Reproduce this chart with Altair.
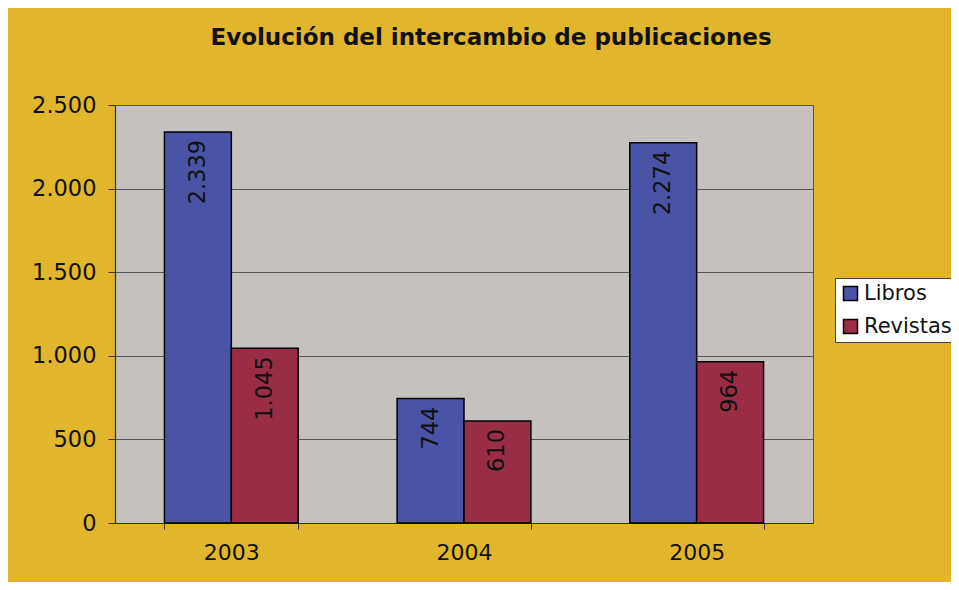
import altair as alt
import pandas as pd

years = ["2003", "2004", "2005"]
libros = [2339, 744, 2274]
revistas = [1045, 610, 964]
series = ["Libros", "Revistas"]
title_text = "Evolución del intercambio de publicaciones"

rows = []
for i, y in enumerate(years):
    rows.append({"anio": y, "serie": series[0], "valor": libros[i]})
    rows.append({"anio": y, "serie": series[1], "valor": revistas[i]})
df = pd.DataFrame(rows)

FONT = "DejaVu Sans"

base = alt.Chart(df).encode(
    x=alt.X(
        "anio:N",
        sort=years,
        title=None,
        scale=alt.Scale(paddingInner=0.425, paddingOuter=0.2125),
        axis=alt.Axis(
            labelAngle=0,
            labelFontSize=22,
            labelFont=FONT,
            labelColor="#111",
            labelPadding=13,
            tickBand="extent",
            tickSize=6,
            tickColor="#333",
            domainColor="#333",
            domainWidth=1.2,
        ),
    ),
    xOffset=alt.XOffset("serie:N", sort=series, scale=alt.Scale(paddingInner=0, paddingOuter=0)),
    y=alt.Y(
        "valor:Q",
        title=None,
        scale=alt.Scale(domain=[0, 2500], nice=False),
        axis=alt.Axis(
            values=[0, 500, 1000, 1500, 2000, 2500],
            labelExpr="replace(format(datum.value, ','), ',', '.')",
            labelFontSize=22.5,
            labelFont=FONT,
            labelColor="#111",
            labelPadding=12,
            tickSize=7,
            tickColor="#333",
            domainColor="#333",
            domainWidth=1.2,
            grid=True,
            gridColor="#555",
            gridWidth=1,
        ),
    ),
)

bars = base.mark_bar(stroke="black", strokeWidth=1.5).encode(
    color=alt.Color(
        "serie:N",
        sort=series,
        scale=alt.Scale(domain=series, range=["#4B53A6", "#9A2D46"]),
        legend=alt.Legend(
            title=None,
            orient="none",
            legendX=720,
            legendY=173,
            fillColor="white",
            strokeColor="#444",
            padding=5,
            symbolType="square",
            symbolSize=196,
            symbolStrokeColor="black",
            symbolStrokeWidth=1.5,
            symbolOpacity=1,
            labelFontSize=21,
            labelFont=FONT,
            labelColor="#111",
            rowPadding=11,
            labelOffset=3,
        ),
    )
)

labels = base.mark_text(
    angle=270, align="right", baseline="middle", dx=-8, fontSize=22.5, font=FONT, color="#111"
).transform_calculate(
    etiqueta="replace(format(datum.valor, ','), ',', '.')"
).encode(text="etiqueta:N")

chart = (
    alt.layer(bars, labels)
    .properties(
        width=698,
        height=418,
        autosize=alt.AutoSizeParams(type="none"),
        padding={"left": 107, "top": 97, "right": 138, "bottom": 59},
        background="#E1B52C",
        title=alt.Title(
            title_text,
            fontSize=23,
            font=FONT,
            fontWeight="bold",
            color="#111",
            anchor="middle",
            dx=27,
            offset=44,
        ),
    )
    .configure_view(fill="#C4C1BE", stroke="#555", strokeWidth=1)
)

chart.save("out.html", embed_options={"renderer": "svg", "actions": False})
